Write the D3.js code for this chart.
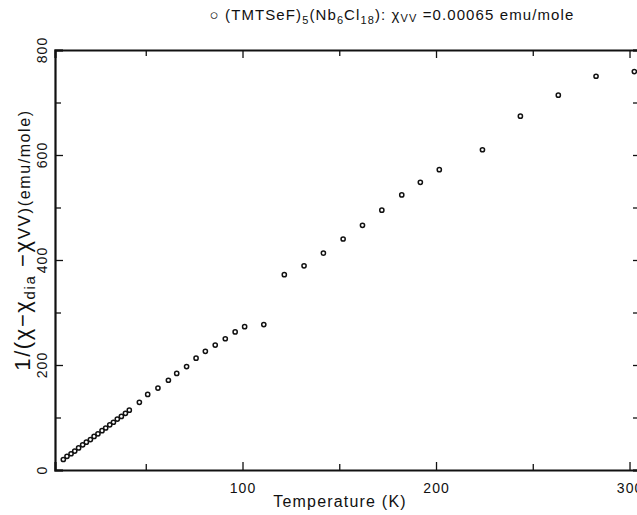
<!DOCTYPE html>
<html>
<head>
<meta charset="utf-8">
<script src="https://cdn.jsdelivr.net/npm/d3@7"></script>
<style>
  html, body { margin: 0; padding: 0; background: #fff; }
  svg { display: block; }
  text { font-family: "Liberation Sans", "DejaVu Sans", sans-serif; fill: #111; }
</style>
</head>
<body>
<svg id="chart" width="637" height="515"></svg>
<script>
// ---- data ----
const temperature = [7.4, 9.3, 11.4, 13.3, 15.3, 17.4, 19.3, 21.4, 23.3, 25.3, 27.4, 29.3, 31.4, 33.3, 35.3, 37.4, 39.5, 41.5,
  46.7, 51.0, 56.3, 61.7, 66.0, 71.1, 76.0, 80.8, 85.9, 91.1, 96.2, 101.1, 111.0,
  121.6, 131.8, 141.8, 152.0, 162.0, 172.0, 182.3, 191.9, 201.7, 224.0, 243.6, 263.2, 282.7, 302.5];
const invChi = [20, 26, 31, 36, 42, 48, 53, 58, 64, 69, 75, 80, 86, 91, 97, 102, 108, 114,
  129, 144, 156, 171, 184, 197, 213, 226, 238, 250, 263, 273, 277,
  372, 389, 413, 440, 466, 495, 524, 548, 572, 610, 674, 714, 750, 759];
const xMajorTicks = [100, 200, 300];
const xMinorTicks = [50, 150, 250];
const yMajorTicks = [0, 200, 400, 600, 800];
const yMinorTicks = [100, 300, 500, 700];

// ---- layout ----
const svg = d3.select("#chart");
const mLeft = 55, mRight = 639, mTop = 50, mBottom = 470;
const x = d3.scaleLinear().domain([3.1, 304.9]).range([mLeft, mRight]);
const y = d3.scaleLinear().domain([0, 800]).range([mBottom, mTop]);

function styleAxis(g, w) {
  g.select(".domain").attr("stroke", "#111").attr("stroke-width", w);
  g.selectAll(".tick line").attr("stroke", "#111").attr("stroke-width", 1.3);
}
function minor(g) {
  g.select(".domain").remove();
  g.selectAll(".tick line").attr("stroke", "#111").attr("stroke-width", 1.3);
}

// bottom axis
const gB = svg.append("g").attr("transform", `translate(0,${mBottom})`)
  .call(d3.axisBottom(x).tickValues(xMajorTicks).tickSize(-8).tickPadding(13).tickFormat(d3.format("d")));
styleAxis(gB, 2.2);
gB.selectAll(".tick text").attr("font-size", 14).attr("letter-spacing", 1)
  .attr("font-family", "Liberation Sans, sans-serif").attr("fill", "#111");
svg.append("g").attr("transform", `translate(0,${mBottom})`)
  .call(d3.axisBottom(x).tickValues(xMinorTicks).tickSize(-6).tickFormat(""))
  .call(minor);

// top axis
const gT = svg.append("g").attr("transform", `translate(0,${mTop})`)
  .call(d3.axisTop(x).tickValues(xMajorTicks).tickSize(-8).tickFormat(""));
styleAxis(gT, 2.2);
svg.append("g").attr("transform", `translate(0,${mTop})`)
  .call(d3.axisTop(x).tickValues(xMinorTicks).tickSize(-6).tickFormat(""))
  .call(minor);

// left axis
const gL = svg.append("g").attr("transform", `translate(${mLeft},0)`)
  .call(d3.axisLeft(y).tickValues(yMajorTicks).tickSize(-8).tickFormat(""));
styleAxis(gL, 2.2);
svg.append("g").attr("transform", `translate(${mLeft},0)`)
  .call(d3.axisLeft(y).tickValues(yMinorTicks).tickSize(-6).tickFormat(""))
  .call(minor);
svg.append("g").selectAll("text").data(yMajorTicks).join("text")
  .attr("transform", d => `translate(${mLeft - 13},${y(d)}) rotate(-90)`)
  .attr("text-anchor", "middle").attr("dy", "0.35em").attr("font-size", 14).attr("letter-spacing", 1)
  .text(d3.format("d"));

// right axis
const gR = svg.append("g").attr("transform", `translate(${mRight},0)`)
  .call(d3.axisRight(y).tickValues(yMajorTicks.concat(yMinorTicks)).tickSize(-6).tickFormat(""));
styleAxis(gR, 2.2);

// data points
const pts = temperature.map((t, i) => ({ t, v: invChi[i] }));
svg.append("g").selectAll("circle").data(pts).join("circle")
  .attr("cx", d => x(d.t)).attr("cy", d => y(d.v)).attr("r", 2.1)
  .attr("fill", "none").attr("stroke", "#111").attr("stroke-width", 1.5);

// title
const title = svg.append("text").attr("x", 392).attr("y", 20).attr("text-anchor", "middle")
  .attr("font-size", 15).attr("letter-spacing", 1.1);
title.append("tspan").text("\u25CB (TMTSeF)");
title.append("tspan").attr("font-size", 11).attr("dy", 4).text("5");
title.append("tspan").attr("dy", -4).text("(Nb");
title.append("tspan").attr("font-size", 11).attr("dy", 4).text("6");
title.append("tspan").attr("dy", -4).text("Cl");
title.append("tspan").attr("font-size", 11).attr("dy", 4).text("18");
title.append("tspan").attr("dy", -4).text("): \u03C7");
title.append("tspan").attr("font-size", 11).attr("dy", 2).text("VV");
title.append("tspan").attr("dy", -2).text(" =0.00065 emu/mole");

// x label
svg.append("text").attr("x", 340).attr("y", 507).attr("text-anchor", "middle")
  .attr("font-size", 16).attr("letter-spacing", 1.2)
  .text("Temperature (K)");

// y label
const yl = svg.append("text").attr("transform", `translate(30,240) rotate(-90)`)
  .attr("text-anchor", "middle").attr("font-size", 22).attr("letter-spacing", 1.6);
yl.append("tspan").text("1/(\u03C7\u2212\u03C7");
yl.append("tspan").attr("font-size", 15).attr("dy", 5).text("dia");
yl.append("tspan").attr("dy", -5).text("  \u2212\u03C7");
yl.append("tspan").attr("font-size", 17).text("VV)");
yl.append("tspan").attr("font-size", 16).text("(emu/mole)");
</script>
</body>
</html>
